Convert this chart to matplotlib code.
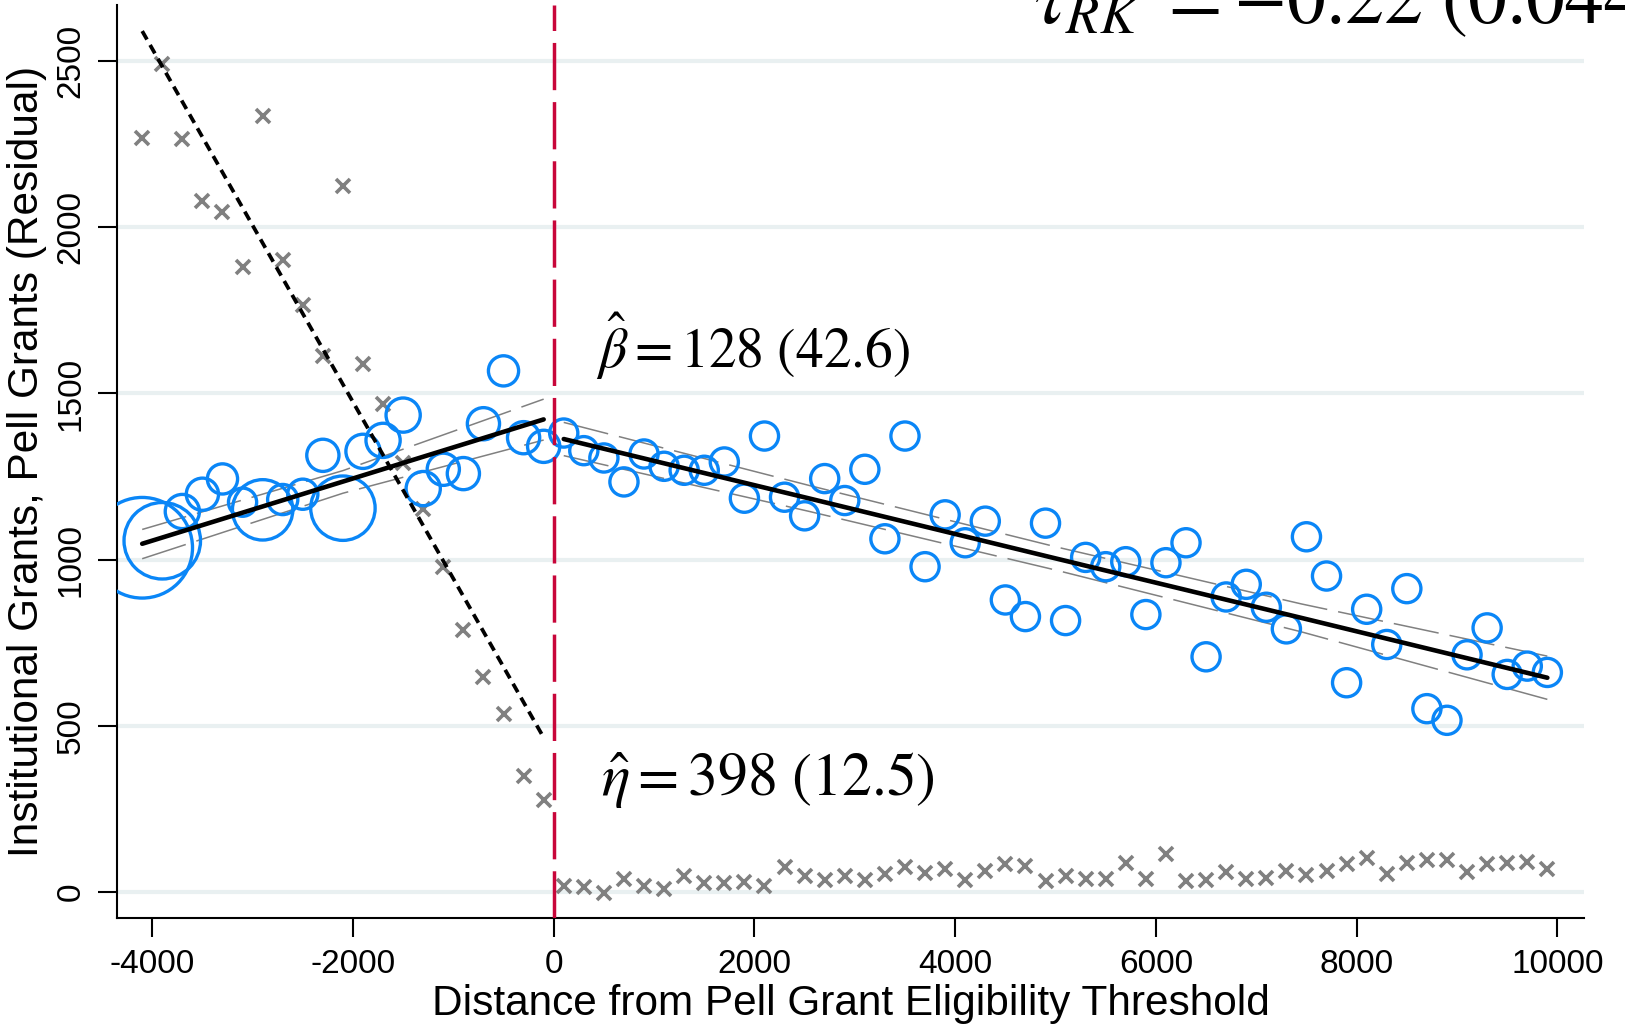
import matplotlib
matplotlib.use("Agg")
import matplotlib.pyplot as plt
import numpy as np

plt.rcParams['font.family'] = ['Liberation Sans', 'DejaVu Sans']
plt.rcParams['mathtext.fontset'] = 'stix'
plt.rcParams['lines.scale_dashes'] = False
plt.rcParams['axes.unicode_minus'] = False

# binned means, left of the threshold (bin centres every 200)
left_x = [-4100, -3900, -3700, -3500, -3300, -3100, -2900, -2700, -2500, -2300, -2100,
          -1900, -1700, -1500, -1300, -1100, -900, -700, -500, -300, -100]
left_inst = [1036, 1057, 1145, 1197, 1243, 1173, 1150, 1181, 1197, 1314, 1155,
             1326, 1359, 1435, 1214, 1272, 1259, 1409, 1568, 1367, 1341]
left_weight = [2500, 1444, 289, 256, 225, 196, 900, 225, 225, 256, 1024,
               289, 289, 289, 289, 256, 256, 256, 225, 256, 256]
left_pell = [2268, 2490, 2265, 2080, 2045, 1879, 2335, 1902, 1765, 1614, 2125,
             1589, 1468, 1290, 1152, 977, 790, 647, 537, 350, 278]

# binned means, right of the threshold
right_x = list(range(100, 10000, 200))
right_inst = [1381, 1328, 1306, 1234, 1318, 1281, 1269, 1269, 1294, 1185,
              1372, 1188, 1132, 1244, 1178, 1272, 1063, 1372, 979, 1135,
              1051, 1116, 879, 829, 1110, 817, 1007, 979, 994, 835,
              991, 1051, 708, 888, 926, 857, 792, 1069, 951, 630,
              851, 745, 913, 552, 517, 714, 795, 655, 680, 661]
right_pell = [19, 16, -3, 40, 19, 9, 50, 28, 28, 31,
              19, 75, 50, 37, 50, 37, 56, 75, 59, 69,
              37, 65, 84, 78, 34, 50, 40, 40, 87, 40,
              115, 34, 37, 62, 40, 44, 65, 53, 65, 84,
              103, 56, 87, 97, 97, 62, 84, 87, 90, 69]

# fitted lines and confidence bands
lfit_x = [-4100, -2100, -100]
lfit_y = [1048, 1235, 1422]
lfit_hi = [1091, 1268, 1483]
lfit_lo = [1003, 1200, 1360]
rfit_x = [100, 2550, 5000, 7450, 9900]
rfit_y = [1363, 1184, 1004, 825, 645]
rfit_hi = [1413, 1223, 1039, 867, 710]
rfit_lo = [1313, 1145, 969, 783, 580]
pfit_x = [-4100, -100]
pfit_y = [2590, 465]

blue = '#0a86f7'
grey = '#808080'

fig = plt.figure(figsize=(16.25, 10.27), dpi=100)
ax = fig.add_axes([0.072, 0.106, 0.903, 0.889])

for gy in [0, 500, 1000, 1500, 2000, 2500]:
    ax.axhline(gy, color='#e9f0f1', lw=3.0, zorder=0)

ax.plot(lfit_x, lfit_hi, color=grey, lw=1.1, dashes=(33, 8), zorder=2)
ax.plot(lfit_x, lfit_lo, color=grey, lw=1.1, dashes=(33, 8), zorder=2)
ax.plot(rfit_x, rfit_hi, color=grey, lw=1.1, dashes=(33, 8), zorder=2)
ax.plot(rfit_x, rfit_lo, color=grey, lw=1.1, dashes=(33, 8), zorder=2)

ax.plot(left_x, left_pell, 'x', color=grey, ms=10, mew=2.6, zorder=3)
ax.plot(right_x, right_pell, 'x', color=grey, ms=10, mew=2.6, zorder=3)

sizes = [w * 2.1 for w in left_weight]
ax.scatter(left_x, left_inst, s=sizes, facecolors='none', edgecolors=blue, linewidths=2.4, zorder=4)
ax.scatter(right_x, right_inst, s=[196 * 2.1] * len(right_x),
           facecolors='none', edgecolors=blue, linewidths=2.4, zorder=4)

ax.plot(lfit_x, lfit_y, color='black', lw=3.3, solid_capstyle='round', zorder=5)
ax.plot(rfit_x, rfit_y, color='black', lw=3.3, solid_capstyle='round', zorder=5)
ax.plot(pfit_x, pfit_y, color='black', lw=2.7, dashes=(7, 4.5), zorder=5)

ax.axvline(0, color='#c8063a', lw=2.5, dashes=(34, 8.6), zorder=6)

ax.set_xlim(-4351, 10269)
ax.set_ylim(-78, 2668)
ax.set_xticks([-4000, -2000, 0, 2000, 4000, 6000, 8000, 10000])
ax.set_yticks([0, 500, 1000, 1500, 2000, 2500])
ax.tick_params(axis='both', length=14, width=1.5, labelsize=24, pad=8)
plt.setp(ax.get_yticklabels(), rotation=90, va='center')
for s in ['top', 'right']:
    ax.spines[s].set_visible(False)
for s in ['left', 'bottom']:
    ax.spines[s].set_linewidth(1.5)

ax.set_xlabel('Distance from Pell Grant Eligibility Threshold', fontsize=30.5, labelpad=3)
ax.set_ylabel('Institutional Grants, Pell Grants (Residual)', fontsize=30.5, labelpad=6)

fig.text(0.367, 0.642, r'$\hat{\beta} = 128\ (42.6)$', fontsize=40)
fig.text(0.370, 0.225, r'$\hat{\eta} = 398\ (12.5)$', fontsize=43)
fig.text(0.636, 0.977, r'$\tau_{RK}\ = -0.22\ (0.044)$', fontsize=56)

fig.savefig('out.png', dpi=100)
